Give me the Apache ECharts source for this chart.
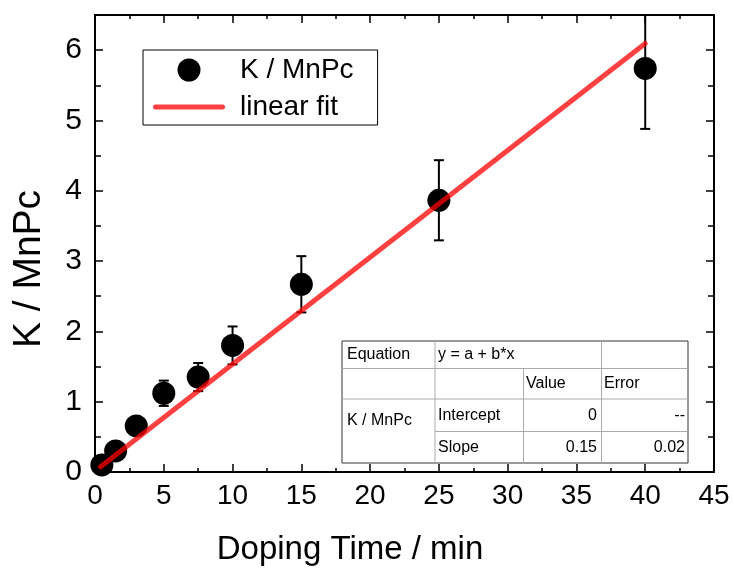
<!DOCTYPE html>
<html>
<head>
<meta charset="utf-8">
<script src="https://cdn.jsdelivr.net/npm/echarts@6/dist/echarts.min.js"></script>
<style>
html,body{margin:0;padding:0;background:#fff;}
#chart{width:734px;height:572px;}
</style>
</head>
<body>
<div id="chart"></div>
<script>
// ---- data ----
const dopingTime = [0.5, 1.5, 3, 5, 7.5, 10, 15, 25, 40];
const kRatio     = [0.10, 0.30, 0.655, 1.12, 1.35, 1.80, 2.67, 3.865, 5.74];
const kError     = [0.03, 0.04, 0.06, 0.18, 0.20, 0.27, 0.40, 0.57, 0.86];
const fitX = [0.4, 40];
const fitY = [0.075, 6.095];
const xTicks = [0, 5, 10, 15, 20, 25, 30, 35, 40, 45];
const yTicks = [0, 1, 2, 3, 4, 5, 6];
const tableRows = [
  ['Equation', 'y = a + b*x', '', ''],
  ['', '', 'Value', 'Error'],
  ['K / MnPc', 'Intercept', '0', '--'],
  ['', 'Slope', '0.15', '0.02']
];

const FONT = "'Liberation Sans', Arial, sans-serif";

const pts = dopingTime.map((t, i) => [t, kRatio[i]]);
const errs = dopingTime.map((t, i) => [t, kRatio[i] - kError[i], kRatio[i] + kError[i]]);
const fit = fitX.map((x, i) => [x, fitY[i]]);

const axisLine = {show: true, onZero: false, lineStyle: {color: '#000', width: 2}};
function xAx(pos, labels) {
  return {
    type: 'value', position: pos, min: xTicks[0], max: xTicks[xTicks.length - 1], interval: 5,
    axisLine: axisLine,
    axisTick: {show: true, inside: true, length: 8, lineStyle: {color: '#000', width: 1.5}},
    minorTick: {show: true, splitNumber: 2, length: 4, lineStyle: {color: '#000', width: 1.5}},
    splitLine: {show: false},
    axisLabel: {show: labels, fontSize: 28, fontFamily: FONT, color: '#000', margin: 10}
  };
}
function yAx(pos, labels) {
  return {
    type: 'value', position: pos, min: yTicks[0], max: 6.5, interval: 1,
    axisLine: axisLine,
    axisTick: {show: true, inside: true, length: 8, lineStyle: {color: '#000', width: 1.5}},
    minorTick: {show: true, splitNumber: 2, length: 6, lineStyle: {color: '#000', width: 1.5}},
    splitLine: {show: false},
    axisLabel: {show: labels, fontSize: 30, fontFamily: FONT, color: '#000', margin: 13,
      formatter: v => (yTicks.indexOf(v) >= 0 ? String(v) : '')}
  };
}

// table graphic
const tX = [342, 435, 523.5, 601.5, 688];
const tY = [341, 368.5, 399, 431.5, 463];
const tg = [];
tg.push({type: 'rect', shape: {x: tX[0], y: tY[0], width: tX[4] - tX[0], height: tY[4] - tY[0]},
  style: {fill: '#fff', stroke: '#333', lineWidth: 1}, z: 10});
const inner = {stroke: '#aaa', lineWidth: 1};
[[tX[0], tY[1], tX[4], tY[1]], [tX[0], tY[2], tX[4], tY[2]], [tX[1], tY[3], tX[4], tY[3]],
 [tX[1], tY[0], tX[1], tY[4]], [tX[2], tY[1], tX[2], tY[4]], [tX[3], tY[0], tX[3], tY[4]]]
.forEach(l => tg.push({type: 'line', shape: {x1: l[0], y1: l[1], x2: l[2], y2: l[3]}, style: inner, z: 11}));
function tText(txt, x, y, align) {
  tg.push({type: 'text', x: x, y: y, z: 12,
    style: {text: txt, fontSize: 16, fontFamily: FONT, fill: '#000', align: align, verticalAlign: 'middle'}});
}
const rowMid = r => (tY[r] + tY[r + 1]) / 2;
tText(tableRows[0][0], 347, rowMid(0), 'left');
tText(tableRows[0][1], 438, rowMid(0), 'left');
tText(tableRows[1][2], 526, rowMid(1), 'left');
tText(tableRows[1][3], 604, rowMid(1), 'left');
tText(tableRows[2][0], 347, 421, 'left');
tText(tableRows[2][1], 438, rowMid(2), 'left');
tText(tableRows[2][2], 597, rowMid(2), 'right');
tText(tableRows[2][3], 685, rowMid(2), 'right');
tText(tableRows[3][1], 438, rowMid(3), 'left');
tText(tableRows[3][2], 597, rowMid(3), 'right');
tText(tableRows[3][3], 685, rowMid(3), 'right');

// axis titles
tg.push({type: 'text', x: 350, y: 550, z: 12,
  style: {text: 'Doping Time / min', fontSize: 33, fontFamily: FONT, fill: '#000', align: 'center', verticalAlign: 'middle'}});
tg.push({type: 'text', x: 29, y: 269, rotation: Math.PI / 2, z: 12,
  style: {text: 'K / MnPc', fontSize: 39, fontFamily: FONT, fill: '#000', align: 'center', verticalAlign: 'middle'}});

const chart = echarts.init(document.getElementById('chart'), null, {renderer: 'canvas'});
chart.setOption({
  animation: false,
  backgroundColor: '#fff',
  grid: {left: 95, right: 20, top: 15, bottom: 100, containLabel: false},
  xAxis: [xAx('bottom', true), xAx('top', false)],
  yAxis: [yAx('left', true), yAx('right', false)],
  legend: {
    orient: 'vertical', left: 143, top: 50,
    borderColor: '#000', borderWidth: 1, padding: [6, 24, 4, 10],
    itemWidth: 72, itemHeight: 23, itemGap: 9,
    textStyle: {fontSize: 28, fontFamily: FONT, color: '#000', padding: [0, 0, 0, 10]},
    data: [
      {name: 'K / MnPc', icon: 'circle', itemStyle: {color: '#000', opacity: 1}},
      {name: 'linear fit', icon: 'path://M2.5,0H69.5A2.5,2.5 0 0 1 69.5,5H2.5A2.5,2.5 0 0 1 2.5,0Z'}
    ]
  },
  graphic: tg,
  series: [
    {
      type: 'custom', name: 'err', clip: true, z: 2,
      data: errs,
      renderItem: function (params, api) {
        const x = api.value(0);
        const lo = api.coord([x, api.value(1)]);
        const hi = api.coord([x, api.value(2)]);
        const w = 5;
        const st = {stroke: '#000', lineWidth: 2};
        return {type: 'group', children: [
          {type: 'line', shape: {x1: lo[0], y1: lo[1], x2: hi[0], y2: hi[1]}, style: st},
          {type: 'line', shape: {x1: lo[0] - w, y1: lo[1], x2: lo[0] + w, y2: lo[1]}, style: st},
          {type: 'line', shape: {x1: hi[0] - w, y1: hi[1], x2: hi[0] + w, y2: hi[1]}, style: st}
        ]};
      }
    },
    {
      type: 'scatter', name: 'K / MnPc', z: 3,
      data: pts, symbol: 'circle', symbolSize: 23,
      itemStyle: {color: '#000', opacity: 1}
    },
    {
      type: 'line', name: 'linear fit', z: 4,
      data: fit, symbol: 'none', showSymbol: false,
      lineStyle: {color: 'rgba(255,0,0,0.75)', width: 5, cap: 'round'},
      itemStyle: {color: 'rgba(255,0,0,0.75)'}
    }
  ]
});
</script>
</body>
</html>
